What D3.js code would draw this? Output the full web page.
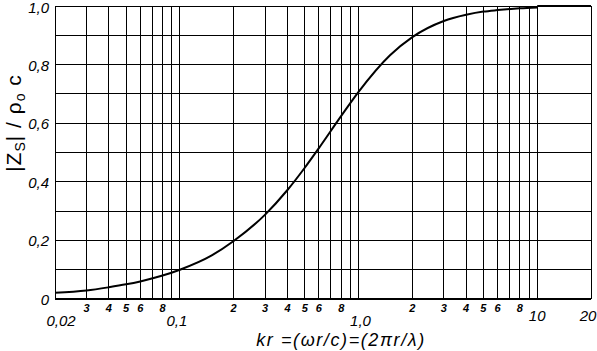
<!DOCTYPE html>
<html>
<head>
<meta charset="utf-8">
<script src="https://cdn.jsdelivr.net/npm/d3@7"></script>
<style>
  body { margin: 0; background: #fff; }
  text { font-family: "Liberation Sans", Arial, sans-serif; font-style: italic; fill: #000; }
</style>
</head>
<body>
<div id="chart"></div>
<script>
// values
const kr = [0.02, 0.03, 0.04, 0.05, 0.06, 0.08, 0.1, 0.15, 0.2, 0.3, 0.4, 0.5, 0.6, 0.8, 1.0, 1.5, 2, 3, 4, 5, 6, 8, 10];
const zs = [0.021, 0.029, 0.04, 0.05, 0.06, 0.08, 0.1, 0.148, 0.198, 0.288, 0.372, 0.448, 0.515, 0.625, 0.707, 0.832, 0.894, 0.949, 0.97, 0.981, 0.986, 0.992, 0.995];

const yTicks = [0, 0.2, 0.4, 0.6, 0.8, 1.0];
const yTickLabels = ["0", "0,2", "0,4", "0,6", "0,8", "1,0"];
const yGrid = [0.1, 0.2, 0.3, 0.4, 0.5, 0.6, 0.7, 0.8, 0.9, 1.0];
const xGrid = [0.02, 0.03, 0.04, 0.05, 0.06, 0.07, 0.08, 0.09,
               0.1, 0.2, 0.3, 0.4, 0.5, 0.6, 0.7, 0.8, 0.9,
               1, 2, 3, 4, 5, 6, 7, 8, 9, 10, 20];
const xMinor = [0.03, 0.04, 0.05, 0.06, 0.08, 0.2, 0.3, 0.4, 0.5, 0.6, 0.8, 2, 3, 4, 5, 6, 8];
const xMinorLabels = ["3", "4", "5", "6", "8", "2", "3", "4", "5", "6", "8", "2", "3", "4", "5", "6", "8"];
const xMajor = [0.02, 0.1, 1, 10, 20];
const xMajorLabels = ["0,02", "0,1", "1,0", "10", "20"];

const W = 597, H = 351;
const margin = { top: 6, left: 55, right: 6, bottom: 52 };

const svg = d3.select("#chart")
              .append("svg")
              .attr("width", W)
              .attr("height", H);

const x = d3.scaleLog().domain([0.02, 20]).range([margin.left, W - margin.right]);
const y = d3.scaleLinear().domain([0, 1]).range([H - margin.bottom, margin.top]);

// grid
svg.append("g")
   .selectAll("line")
   .data(xGrid)
   .join("line")
   .attr("x1", d => x(d)).attr("x2", d => x(d))
   .attr("y1", y(0)).attr("y2", y(1))
   .attr("stroke", "#000")
   .attr("stroke-width", 1)
   .attr("shape-rendering", "crispEdges");

svg.append("g")
   .selectAll("line")
   .data(yGrid)
   .join("line")
   .attr("x1", x(0.02)).attr("x2", x(20))
   .attr("y1", d => y(d)).attr("y2", d => y(d))
   .attr("stroke", "#000")
   .attr("stroke-width", 1)
   .attr("shape-rendering", "crispEdges");

// bottom axis line
svg.append("line")
   .attr("x1", x(0.02)).attr("x2", x(20))
   .attr("y1", y(0)).attr("y2", y(0))
   .attr("stroke", "#000")
   .attr("stroke-width", 2);

// y tick labels
svg.append("g")
   .selectAll("text")
   .data(yTicks)
   .join("text")
   .attr("x", 49)
   .attr("y", d => d === 1 ? y(d) + 7 : y(d) + 6)
   .attr("text-anchor", "end")
   .attr("font-size", "15px")
   .text((d, i) => yTickLabels[i]);

// x minor labels
svg.append("g")
   .selectAll("text")
   .data(xMinor)
   .join("text")
   .attr("x", d => x(d))
   .attr("y", 312)
   .attr("text-anchor", "middle")
   .attr("font-size", "11px")
   .attr("font-weight", "bold")
   .text((d, i) => xMinorLabels[i]);

// x major labels
svg.append("g")
   .selectAll("text")
   .data(xMajor)
   .join("text")
   .attr("x", (d, i) => x(d) + [6, -3, 2, 0, -3][i])
   .attr("y", (d, i) => i < 3 ? 326 : 321)
   .attr("text-anchor", "middle")
   .attr("font-size", "15px")
   .text((d, i) => xMajorLabels[i]);

// x title
svg.append("text")
   .attr("x", 341)
   .attr("y", 346)
   .attr("text-anchor", "middle")
   .attr("font-size", "18px")
   .attr("letter-spacing", "1.6px")
   .text("kr  =(ωr/c)=(2πr/λ)");

// y title
const yt = svg.append("text")
   .attr("transform", "translate(21, 123) rotate(-90)")
   .attr("text-anchor", "middle")
   .attr("font-size", "21px")
   .attr("letter-spacing", "1px")
   .style("font-style", "normal");
yt.append("tspan").text("|Z");
yt.append("tspan").attr("font-size", "14px").attr("dy", 4).text("S");
yt.append("tspan").attr("dy", -4).text("| / ρ");
yt.append("tspan").attr("font-size", "14px").attr("dy", 4).text("o");
yt.append("tspan").attr("dy", -4).text(" c");

// curve
const pts = kr.map((k, i) => ({ k: k, v: zs[i] }));
svg.append("path")
   .datum(pts)
   .attr("fill", "none")
   .attr("stroke", "#000")
   .attr("stroke-width", 2)
   .attr("d", d3.line()
                .x(d => x(d.k))
                .y(d => y(d.v))
                .curve(d3.curveMonotoneX));

// top line thick near the end
svg.append("line")
   .attr("x1", x(10)).attr("x2", x(20))
   .attr("y1", y(1)).attr("y2", y(1))
   .attr("stroke", "#000")
   .attr("stroke-width", 2);
</script>
</body>
</html>
